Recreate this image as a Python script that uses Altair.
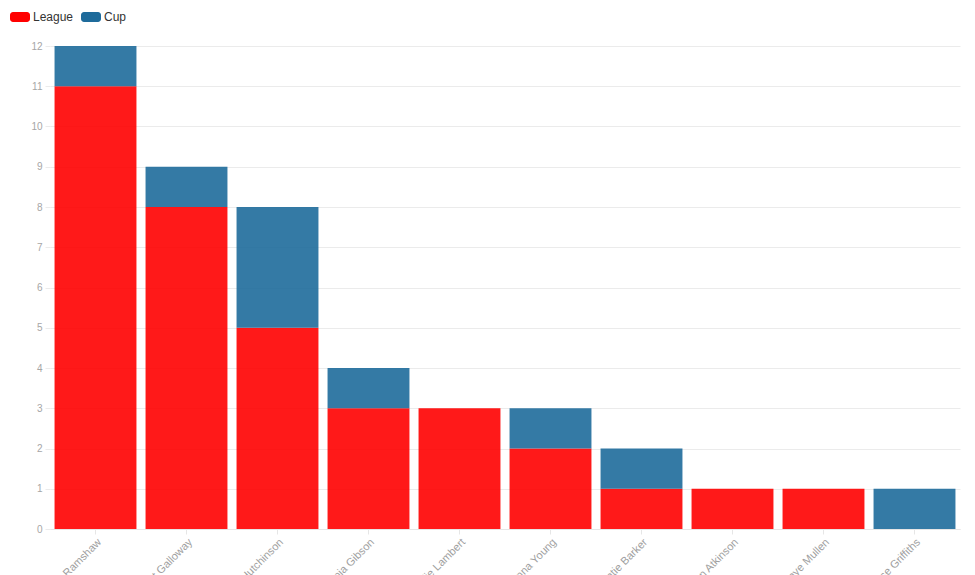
import altair as alt
import pandas as pd

players = ["Lucy Ramshaw", "Bridget Galloway", "Ellie Hutchinson", "Sonia Gibson",
           "Jodie Lambert", "Jenna Young", "Katie Barker", "Megan Atkinson",
           "Faye Mullen", "Louise Griffiths"]
league = [11, 8, 5, 3, 3, 2, 1, 1, 1, 0]
cup = [1, 1, 3, 1, 0, 1, 1, 0, 0, 1]
series = ["League", "Cup"]
colors = ["#ff0000", "#1e6b9b"]
y_ticks = list(range(0, 13))

rows = []
for p, l, c in zip(players, league, cup):
    rows.append({"player": p, "competition": "League", "goals": l, "ord": 0})
    rows.append({"player": p, "competition": "Cup", "goals": c, "ord": 1})
df = pd.DataFrame(rows)

font = "Liberation Sans"
rounded_rect = ("M-0.7,-0.5H0.7A0.3,0.3 0 0 1 1,-0.2V0.2A0.3,0.3 0 0 1 0.7,0.5"
                "H-0.7A0.3,0.3 0 0 1 -1,0.2V-0.2A0.3,0.3 0 0 1 -0.7,-0.5Z")

chart = alt.Chart(df).mark_bar(fillOpacity=0.9).encode(
    x=alt.X("player:N", sort=players, title=None,
            scale=alt.Scale(paddingInner=0.1, paddingOuter=0.05),
            axis=alt.Axis(labelAngle=-45, labelAlign="right", labelBaseline="top",
                          labelColor="#a0a0a0", labelFont=font, labelFontSize=11,
                          domainColor="#e6e6e6", tickColor="#e6e6e6", tickSize=5,
                          labelPadding=2, grid=False)),
    y=alt.Y("goals:Q", stack="zero", title=None,
            scale=alt.Scale(domain=[0, 12], nice=False),
            axis=alt.Axis(values=y_ticks, labelColor="#a6a6a6", labelFont=font,
                          labelFontSize=10, gridColor="#ebebeb", domain=False,
                          tickColor="#ebebeb", tickSize=5, labelPadding=3)),
    color=alt.Color("competition:N",
                    scale=alt.Scale(domain=series, range=colors),
                    legend=alt.Legend(title=None, orient="none", direction="horizontal",
                                      legendX=-40, legendY=-39,
                                      symbolType=rounded_rect, symbolSize=400,
                                      symbolOpacity=1, symbolStrokeWidth=0,
                                      labelFont=font, labelFontSize=12, labelColor="#333333",
                                      columnPadding=7, labelOffset=3, padding=0)),
    order=alt.Order("ord:Q", sort="ascending"),
).properties(
    width=910, height=483,
    autosize=alt.AutoSizeParams(type="none"),
    padding={"left": 42, "top": 38, "right": 5, "bottom": 54},
).configure_view(stroke=None)

chart.save("out.html", embed_options={"renderer": "svg", "actions": False})
